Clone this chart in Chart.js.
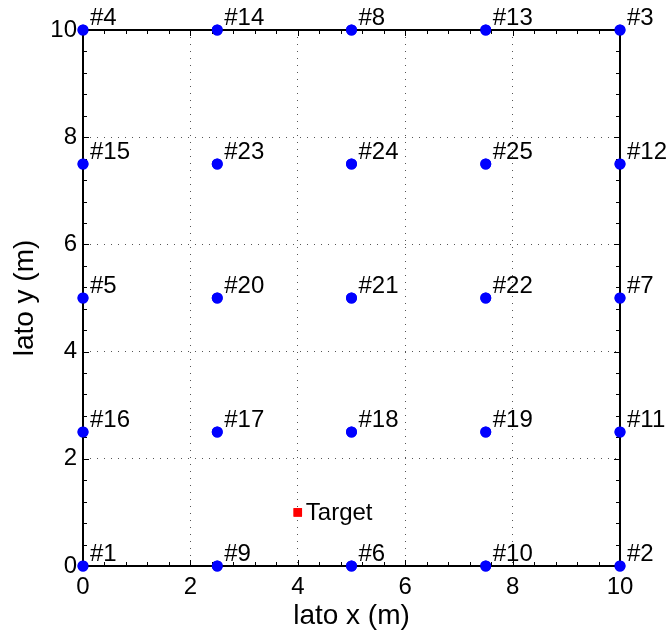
<!DOCTYPE html>
<html>
<head>
<meta charset="utf-8">
<script src="https://cdn.jsdelivr.net/npm/chart.js@4.4.0/dist/chart.umd.min.js"></script>
<style>
  html, body { margin: 0; padding: 0; background: #fff; }
  #wrap { width: 667px; height: 634px; }
</style>
</head>
<body>
<div id="wrap"><canvas id="gridChart" width="667" height="634"></canvas></div>
<script>
// anchor nodes: label, x, y (metres)
const nodeLabels = ['#1', '#2', '#3', '#4', '#5', '#6', '#7', '#8', '#9', '#10', '#11', '#12', '#13',
  '#14', '#15', '#16', '#17', '#18', '#19', '#20', '#21', '#22', '#23', '#24', '#25'];
const nodeX = [0, 10, 10, 0, 0, 5, 10, 5, 2.5, 7.5, 10, 10, 7.5, 2.5, 0, 0, 2.5, 5, 7.5, 2.5, 5, 7.5, 2.5, 5, 7.5];
const nodeY = [0, 0, 10, 10, 5, 0, 5, 10, 0, 0, 2.5, 7.5, 10, 10, 7.5, 2.5, 2.5, 2.5, 2.5, 5, 5, 5, 7.5, 7.5, 7.5];
const targetLabel = 'Target';
const targetX = [4];
const targetY = [1];
const xTicks = [0, 2, 4, 6, 8, 10];
const yTicks = [0, 2, 4, 6, 8, 10];

const font = '"Liberation Sans", Arial, Helvetica, sans-serif';

const nodePoints = nodeX.map((x, i) => ({ x: x, y: nodeY[i], label: nodeLabels[i] }));
const targetPoints = targetX.map((x, i) => ({ x: x, y: targetY[i], label: targetLabel }));

// box, inward ticks and point labels
const decorPlugin = {
  id: 'decor',
  afterDatasetsDraw(chart) {
    const ctx = chart.ctx;
    const a = chart.chartArea;
    const xs = chart.scales.x, ys = chart.scales.y;
    ctx.save();
    ctx.strokeStyle = '#000';
    ctx.lineWidth = 1;
    for (let v = 0; v <= 10.001; v += 0.4) {
      const px = Math.round(xs.getPixelForValue(v)) + 0.5;
      const py = Math.round(ys.getPixelForValue(v)) + 0.5;
      const len = Math.abs(v / 2 - Math.round(v / 2)) < 0.01 ? 6 : 4;
      ctx.beginPath();
      ctx.moveTo(px, a.bottom); ctx.lineTo(px, a.bottom - len);
      ctx.moveTo(px, a.top); ctx.lineTo(px, a.top + len);
      ctx.moveTo(a.left, py); ctx.lineTo(a.left + len, py);
      ctx.moveTo(a.right, py); ctx.lineTo(a.right - len, py);
      ctx.stroke();
    }
    ctx.lineWidth = 2;
    ctx.strokeRect(a.left, a.top, a.right - a.left, a.bottom - a.top);

    // redraw markers on top of the box
    chart.getDatasetMeta(0).data.forEach(el => el.draw(ctx, undefined));
    chart.getDatasetMeta(1).data.forEach(el => el.draw(ctx, undefined));

    ctx.fillStyle = '#000';
    ctx.font = '24px ' + font;
    ctx.textAlign = 'left';
    ctx.textBaseline = 'alphabetic';
    chart.getDatasetMeta(0).data.forEach((el, i) => {
      ctx.fillText(nodePoints[i].label, el.x + 7, el.y - 5);
    });
    ctx.textBaseline = 'middle';
    chart.getDatasetMeta(1).data.forEach((el, i) => {
      ctx.fillText(targetPoints[i].label, el.x + 8, el.y + 1);
    });
    ctx.restore();
  }
};

new Chart(document.getElementById('gridChart').getContext('2d'), {
  type: 'scatter',
  data: {
    datasets: [{
      label: 'Nodi',
      data: nodePoints,
      backgroundColor: '#0000ff',
      borderColor: '#0000ff',
      pointRadius: 5.5,
      pointBorderWidth: 0,
      clip: false
    }, {
      label: targetLabel,
      data: targetPoints,
      backgroundColor: '#ff0000',
      borderColor: '#ff0000',
      pointStyle: 'rect',
      pointRadius: 6,
      pointBorderWidth: 0,
      clip: false
    }]
  },
  options: {
    responsive: false,
    animation: false,
    devicePixelRatio: 1,
    layout: { padding: { left: 0, right: 47, top: 30, bottom: 0 } },
    plugins: { legend: { display: false }, tooltip: { enabled: false } },
    scales: {
      x: {
        type: 'linear',
        min: 0, max: 10,
        afterBuildTicks: s => { s.ticks = xTicks.map(v => ({ value: v })); },
        afterFit: s => { s.height = 68; },
        grid: { color: '#555', lineWidth: 1, drawTicks: false },
        border: { display: false, dash: [1, 6] },
        ticks: { color: '#000', font: { family: font, size: 24 }, padding: 7, maxRotation: 0 },
        title: { display: true, text: 'lato x (m)', color: '#000', font: { family: font, size: 28 }, padding: { top: 0, bottom: 1 } }
      },
      y: {
        type: 'linear',
        min: 0, max: 10,
        afterBuildTicks: s => { s.ticks = yTicks.map(v => ({ value: v })); },
        afterFit: s => { s.width = 83; },
        grid: { color: '#555', lineWidth: 1, drawTicks: false },
        border: { display: false, dash: [1, 6] },
        ticks: { color: '#000', font: { family: font, size: 24 }, padding: 6 },
        title: { display: true, text: 'lato y (m)', color: '#000', font: { family: font, size: 28 }, padding: { top: 8, bottom: 0 } }
      }
    }
  },
  plugins: [decorPlugin]
});
</script>
</body>
</html>
